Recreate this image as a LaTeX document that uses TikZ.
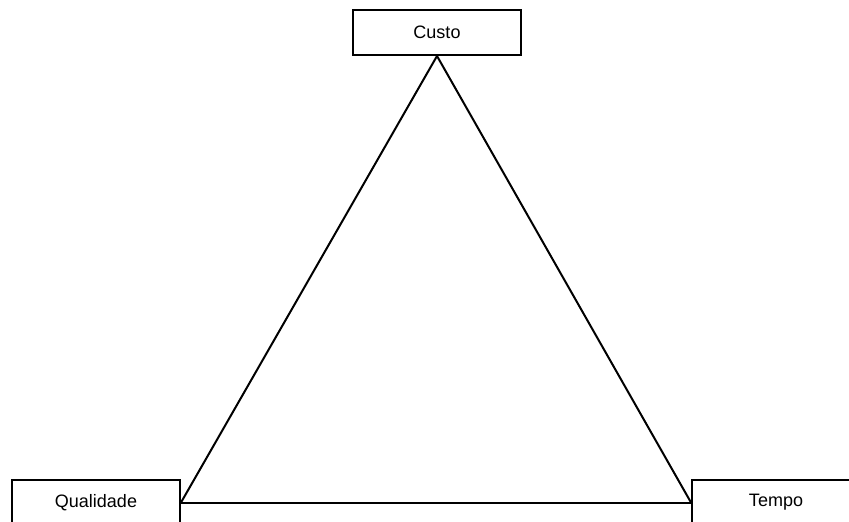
\documentclass[tikz,border=0pt]{standalone}
\usepackage{fontspec}
\setmainfont{Liberation Sans}
\begin{document}
\begin{tikzpicture}[x=1pt,y=-1pt,line width=2pt,
  box/.style={draw,rectangle,minimum width=168pt,minimum height=45pt,inner sep=0pt,font=\fontsize{18}{21}\selectfont}]
\clip (0,0) rectangle (849,522);
\fill[white] (0,0) rectangle (849,522);
\node[box] (custo) at (437,32.5) {Custo};
\node[box] (qualidade) at (96,502.5) {Qualidade};
\node[box] (tempo) at (776,502.5) {Tempo};
\draw (custo.south) -- (qualidade.east);
\draw (custo.south) -- (tempo.west);
\draw (qualidade.east) -- (tempo.west);
\end{tikzpicture}
\end{document}
